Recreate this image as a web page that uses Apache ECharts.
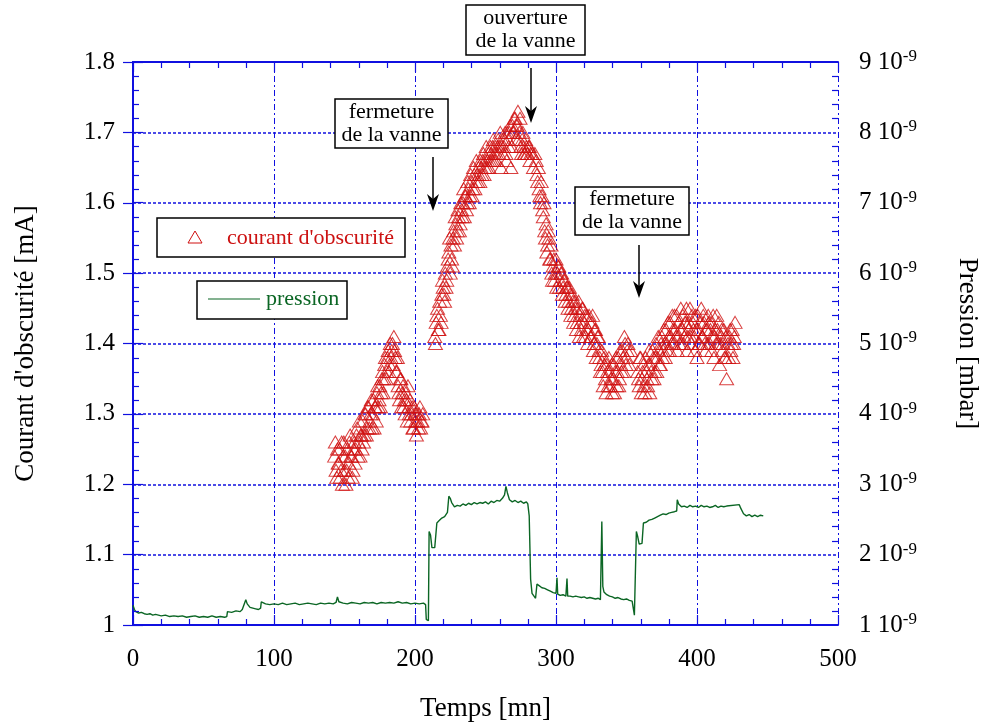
<!DOCTYPE html>
<html><head><meta charset="utf-8">
<script src="https://cdn.jsdelivr.net/npm/echarts@6/dist/echarts.min.js"></script>
<style>html,body{margin:0;padding:0;background:#fff;overflow:hidden}#c{width:984px;height:724px}</style>
</head><body><div id="c"></div>
<script>
// Courant d'obscurité [mA] : temps (mn) et valeurs (deux passes de lecture)
const courantT = [143,144,145,146,147,148,149,150,151,152,153,154,155,156,157,158,159,160,161,162,163,164,165,166,167,168,169,170,171,172,173,174,175,176,177,178,179,180,181,182,183,184,185,186,187,188,189,190,191,192,193,194,195,196,197,198,199,200,201,202,203,204,205,
214,215,216,217,218,219,220,221,222,223,224,225,226,227,228,229,230,231,232,233,234,235,236,237,238,239,240,241,242,243,244,245,246,247,248,249,250,251,252,253,254,255,256,257,258,259,260,261,262,263,264,265,266,267,268,269,270,271,272,273,274,275,276,277,278,279,280,281,282,
284,286,287,288,289,290,291,292,293,294,295,296,297,298,299,300,301,302,303,304,305,306,307,308,309,310,311,312,313,314,315,316,317,318,319,320,321,322,323,324,325,326,327,328,329,330,331,332,333,334,335,336,337,338,339,340,341,342,343,344,345,346,347,348,349,350,351,352,353,
358,359,360,361,362,363,364,365,366,367,368,369,370,371,372,373,374,375,376,377,378,379,380,
381,382,383,384,385,386,387,388,389,390,391,392,393,394,395,396,397,398,399,400,401,402,403,404,405,406,407,408,409,410,411,412,413,414,415,416,417,418,419,420,421,422,423,424,425,426,427];
const courantV = [1.24,1.22,1.25,1.23,1.21,1.26,1.24,1.22,1.20,1.25,1.23,1.27,1.24,1.22,1.26,1.25,1.28,1.26,1.24,1.27,1.29,1.27,1.30,1.28,1.31,1.29,1.32,1.30,1.28,1.31,1.33,1.31,1.34,1.33,1.36,1.35,1.38,1.36,1.39,1.37,1.38,1.40,1.41,1.38,1.36,1.34,1.32,1.35,1.33,1.31,1.30,1.32,1.34,1.30,1.29,1.31,1.28,1.30,1.27,1.29,1.30,1.28,1.29,
1.41,1.43,1.45,1.42,1.44,1.47,1.48,1.46,1.48,1.51,1.53,1.50,1.52,1.55,1.54,1.57,1.56,1.58,1.57,1.59,1.60,1.58,1.61,1.60,1.62,1.61,1.63,1.62,1.64,1.63,1.64,1.65,1.63,1.65,1.66,1.64,1.66,1.65,1.67,1.66,1.67,1.68,1.66,1.68,1.67,1.69,1.68,1.65,1.69,1.68,1.70,1.66,1.69,1.70,1.65,1.71,1.70,1.72,1.71,1.73,1.70,1.68,1.69,1.68,1.67,1.68,1.67,1.68,1.67,
1.65,1.66,1.63,1.62,1.60,1.61,1.58,1.56,1.57,1.54,1.55,1.52,1.50,1.51,1.49,1.52,1.50,1.51,1.49,1.50,1.48,1.49,1.47,1.48,1.46,1.47,1.45,1.46,1.44,1.45,1.43,1.46,1.44,1.42,1.45,1.43,1.41,1.44,1.42,1.43,1.41,1.44,1.40,1.42,1.40,1.41,1.38,1.37,1.36,1.38,1.35,1.37,1.34,1.36,1.35,1.33,1.37,1.36,1.34,1.38,1.35,1.37,1.39,1.36,1.40,1.38,1.40,1.37,1.39,
1.36,1.34,1.38,1.35,1.37,1.33,1.36,1.34,1.39,1.37,1.35,1.38,1.36,1.40,1.38,1.39,1.37,1.41,1.39,1.40,1.42,1.39,1.41,
1.43,1.40,1.42,1.44,1.41,1.39,1.43,1.42,1.40,1.44,1.41,1.43,1.39,1.42,1.45,1.40,1.43,1.41,1.44,1.38,1.42,1.40,1.45,1.41,1.43,1.39,1.42,1.44,1.40,1.43,1.41,1.38,1.42,1.44,1.40,1.37,1.41,1.39,1.42,1.38,1.35,1.40,1.41,1.39,1.42,1.40,1.43];
const courantT2 = [143.5,144.5,145.5,146.5,147.5,148.5,149.5,150.5,151.5,152.5,153.5,154.5,155.5,156.5,157.5,158.5,159.5,160.5,161.5,162.5,163.5,164.5,165.5,166.5,167.5,168.5,169.5,170.5,171.5,172.5,173.5,174.5,175.5,176.5,177.5,178.5,179.5,180.5,181.5,182.5,183.5,184.5,185.5,186.5,187.5,188.5,189.5,190.5,191.5,192.5,193.5,194.5,195.5,196.5,197.5,198.5,199.5,200.5,201.5,202.5,203.5,204.5,205.5,
214.5,215.5,216.5,217.5,218.5,219.5,220.5,221.5,222.5,223.5,224.5,225.5,226.5,227.5,228.5,229.5,230.5,231.5,232.5,233.5,234.5,235.5,236.5,237.5,238.5,239.5,240.5,241.5,242.5,243.5,244.5,245.5,246.5,247.5,248.5,249.5,250.5,251.5,252.5,253.5,254.5,255.5,256.5,257.5,258.5,259.5,260.5,261.5,262.5,263.5,264.5,265.5,266.5,267.5,268.5,269.5,270.5,271.5,272.5,273.5,274.5,275.5,276.5,277.5,278.5,279.5,280.5,281.5,283,
285,286.5,287.5,288.5,289.5,290.5,291.5,292.5,293.5,294.5,295.5,296.5,297.5,298.5,299.5,300.5,301.5,302.5,303.5,304.5,305.5,306.5,307.5,308.5,309.5,310.5,311.5,312.5,313.5,314.5,315.5,316.5,317.5,318.5,319.5,320.5,321.5,322.5,323.5,324.5,325.5,326.5,327.5,328.5,329.5,330.5,331.5,332.5,333.5,334.5,335.5,336.5,337.5,338.5,339.5,340.5,341.5,342.5,343.5,344.5,345.5,346.5,347.5,348.5,349.5,350.5,
358.5,359.5,360.5,361.5,362.5,363.5,364.5,365.5,366.5,367.5,368.5,369.5,370.5,371.5,372.5,373.5,374.5,375.5,376.5,377.5,378.5,379.5,380.5,
381.5,382.5,383.5,384.5,385.5,386.5,387.5,388.5,389.5,390.5,391.5,392.5,393.5,394.5,395.5,396.5,397.5,398.5,399.5,400.5,401.5,402.5,403.5,404.5,405.5,406.5,407.5,408.5,409.5,410.5,411.5,412.5,413.5,414.5,415.5,416.5,417.5,418.5,419.5,420.5,422.5,423.5,424.5,425.5,426.5];
const courantV2 = [1.26,1.21,1.23,1.25,1.22,1.20,1.26,1.24,1.22,1.21,1.26,1.24,1.21,1.25,1.23,1.27,1.24,1.29,1.27,1.25,1.26,1.30,1.27,1.31,1.28,1.30,1.28,1.32,1.31,1.29,1.34,1.32,1.31,1.35,1.33,1.37,1.35,1.38,1.36,1.40,1.39,1.37,1.39,1.36,1.38,1.33,1.35,1.31,1.34,1.32,1.33,1.29,1.31,1.32,1.30,1.28,1.31,1.29,1.30,1.28,1.31,1.29,1.30,
1.40,1.44,1.42,1.46,1.43,1.49,1.47,1.50,1.49,1.52,1.55,1.54,1.51,1.56,1.58,1.55,1.59,1.56,1.60,1.58,1.62,1.61,1.59,1.63,1.60,1.64,1.61,1.65,1.62,1.66,1.63,1.64,1.66,1.64,1.67,1.65,1.68,1.66,1.65,1.68,1.66,1.69,1.67,1.66,1.68,1.67,1.70,1.68,1.67,1.69,1.67,1.70,1.68,1.71,1.68,1.70,1.72,1.69,1.71,1.69,1.72,1.67,1.70,1.67,1.69,1.67,1.68,1.66,1.67,
1.67,1.64,1.65,1.61,1.63,1.59,1.60,1.55,1.53,1.56,1.52,1.54,1.49,1.52,1.50,1.48,1.51,1.48,1.50,1.47,1.49,1.46,1.48,1.45,1.48,1.44,1.47,1.43,1.46,1.42,1.45,1.41,1.43,1.45,1.41,1.44,1.42,1.40,1.44,1.41,1.43,1.39,1.42,1.38,1.41,1.39,1.36,1.39,1.34,1.37,1.33,1.36,1.38,1.34,1.37,1.35,1.33,1.38,1.36,1.34,1.39,1.36,1.38,1.41,1.37,1.39,
1.35,1.38,1.33,1.36,1.34,1.38,1.35,1.37,1.33,1.36,1.39,1.35,1.38,1.36,1.41,1.37,1.40,1.38,1.42,1.38,1.40,1.43,1.39,
1.41,1.44,1.40,1.42,1.44,1.41,1.40,1.45,1.42,1.40,1.43,1.45,1.41,1.43,1.41,1.44,1.42,1.39,1.42,1.44,1.40,1.43,1.41,1.44,1.40,1.42,1.40,1.43,1.42,1.39,1.44,1.41,1.40,1.42,1.43,1.40,1.42,1.40,1.38,1.41,1.38,1.42,1.40,1.38,1.41];

// Pression en unités de 10^-9 mbar
const pressionT = [0,1,2,4,6,8,10,12,14,16,18,20,23,26,29,32,35,38,41,44,47,50,53,56,59,62,65,66.5,67,70,73,76,77.5,80,81,83,85,87,89,90.5,91,92,94,97,100,103,106,109,112,115,118,121,124,127,130,133,136,139,142,144,145,146,149,152,155,158,161,164,167,170,173,176,179,182,185,188,191,194,197,200,203,206,207.5,208,209.5,
210,211,212,213,214,215,215.5,217,219,221,223,224,225,226,228,230,232,234,236,238,240,242,244,246,248,250,252,254,256,258,260,262,263.5,264.5,265.5,267,269,271,273,275,277,279,280,281,282,283,284,285.5,
286.5,288,290,292,294,296,298,300,300.7,301.2,303,305,307,307.8,308.3,310,312,314,316,318,320,322,324,326,328,330,331.5,332.5,333.2,334,336,338,340,342,344,346,348,350,352,354,355,355.6,356.3,
357,358,359,360,361,362,364,366,368,370,372,374,376,378,380,382,384,385.6,386,387,389,391,393,395,397,399,401,403,405,407,409,411,413,415,417,419,421,430,431,433,435,437,439,441,443,445,447];
const pressionV = [1.28,1.22,1.19,1.17,1.18,1.16,1.15,1.16,1.14,1.15,1.14,1.13,1.14,1.12,1.13,1.12,1.13,1.11,1.12,1.13,1.11,1.12,1.11,1.13,1.11,1.12,1.11,1.12,1.19,1.18,1.20,1.19,1.22,1.36,1.30,1.25,1.24,1.23,1.22,1.24,1.33,1.34,1.30,1.29,1.30,1.29,1.31,1.29,1.30,1.31,1.29,1.30,1.31,1.30,1.29,1.31,1.30,1.31,1.30,1.32,1.40,1.33,1.31,1.30,1.32,1.31,1.30,1.32,1.31,1.32,1.30,1.32,1.31,1.32,1.31,1.33,1.31,1.32,1.30,1.31,1.30,1.31,1.29,1.08,1.06,
2.33,2.28,2.10,2.08,2.10,2.12,2.45,2.48,2.52,2.54,2.60,2.83,2.80,2.74,2.68,2.70,2.69,2.72,2.70,2.73,2.71,2.74,2.72,2.74,2.73,2.75,2.72,2.76,2.74,2.77,2.76,2.80,2.85,2.97,2.88,2.78,2.75,2.77,2.74,2.76,2.73,2.75,2.72,2.55,1.65,1.45,1.42,1.38,
1.58,1.56,1.53,1.52,1.50,1.48,1.46,1.45,1.67,1.44,1.42,1.43,1.41,1.66,1.41,1.41,1.40,1.41,1.40,1.39,1.40,1.38,1.39,1.38,1.37,1.38,1.36,2.47,1.55,1.47,1.43,1.41,1.40,1.38,1.39,1.37,1.36,1.37,1.35,1.34,1.33,1.14,1.13,
2.33,2.25,2.15,2.14,2.16,2.45,2.46,2.49,2.50,2.52,2.54,2.56,2.58,2.57,2.59,2.60,2.61,2.62,2.78,2.72,2.68,2.69,2.67,2.70,2.68,2.69,2.67,2.70,2.68,2.69,2.67,2.68,2.70,2.67,2.69,2.68,2.69,2.71,2.66,2.58,2.55,2.57,2.54,2.56,2.54,2.56,2.55];

// Graduations
const xTicks = {min: 0, max: 500, step: 100, minor: 20};
const yLeftTicks = {min: 1, max: 1.8, step: 0.1, minor: 0.02};
const yRightTicks = {min: 1, max: 9, step: 1, minor: 0.2};

const FONT = 'Liberation Serif';
const BLUE = '#1010e0';
const RED = '#cc1111';
const GREEN = '#0b6624';

const chart = echarts.init(document.getElementById('c'), null, {renderer: 'canvas'});

const courantData = courantT.map((t, i) => [t, courantV[i]]).concat(courantT2.map((t, i) => [t, courantV2[i]]));
const pressionData = pressionT.map((t, i) => [t, pressionV[i]]);

const axisLineStyle = {show: true, lineStyle: {color: BLUE, width: 2}};
const tickStyle = {show: true, inside: true, length: 10, lineStyle: {color: BLUE, width: 1.2}};

const option = {
  animation: false,
  backgroundColor: '#fff',
  grid: {left: 133, right: 146, top: 62, bottom: 99, containLabel: false, outerBoundsMode: 'none'},
  xAxis: [{
    type: 'value', position: 'bottom', min: xTicks.min, max: xTicks.max, interval: xTicks.step,
    name: 'Temps [mn]', nameLocation: 'middle', nameGap: 70,
    nameTextStyle: {fontFamily: FONT, fontSize: 27, color: '#000'},
    axisLine: axisLineStyle, axisTick: tickStyle, minorTick: {show: false},
    axisLabel: {fontFamily: FONT, fontSize: 25, color: '#000', margin: 22},
    splitLine: {show: true, lineStyle: {color: BLUE, width: 1, type: [6, 3, 2, 3]}}
  }, {
    type: 'value', position: 'top', min: xTicks.min, max: xTicks.max, interval: xTicks.step,
    axisLine: axisLineStyle, axisTick: tickStyle, minorTick: {show: false},
    axisLabel: {show: false}, splitLine: {show: false}
  }],
  yAxis: [{
    type: 'value', position: 'left', min: yLeftTicks.min, max: yLeftTicks.max, interval: yLeftTicks.step,
    name: "Courant d'obscurité [mA]", nameLocation: 'middle', nameGap: 94, nameRotate: 90,
    nameTextStyle: {fontFamily: FONT, fontSize: 27, color: '#000'},
    axisLine: axisLineStyle, axisTick: tickStyle, minorTick: {show: false},
    axisLabel: {fontFamily: FONT, fontSize: 25, color: '#000', margin: 18,
      formatter: v => (Math.round(v * 10) / 10).toString()},
    splitLine: {show: true, lineStyle: {color: BLUE, width: 1.6, type: [3, 2]}}
  }, {
    type: 'value', position: 'right', min: yRightTicks.min, max: yRightTicks.max, interval: yRightTicks.step,
    name: 'Pression [mbar]', nameLocation: 'middle', nameGap: 116, nameRotate: -90,
    nameTextStyle: {fontFamily: FONT, fontSize: 27, color: '#000'},
    axisLine: axisLineStyle, axisTick: tickStyle, minorTick: {show: false},
    axisLabel: {margin: 21, formatter: v => '{m|' + v + ' 10}{e|-9}',
      rich: {
        m: {fontFamily: FONT, fontSize: 25, color: '#000', lineHeight: 28},
        e: {fontFamily: FONT, fontSize: 17, color: '#000', lineHeight: 17, verticalAlign: 'top'}
      }},
    splitLine: {show: false}
  }],
  series: [{
    name: 'pression', type: 'line', xAxisIndex: 0, yAxisIndex: 1,
    data: pressionData, showSymbol: false, symbol: 'none',
    lineStyle: {color: GREEN, width: 1.4}, z: 2
  }, {
    name: "courant d'obscurité", type: 'scatter', xAxisIndex: 0, yAxisIndex: 0,
    data: courantData, symbol: 'triangle', symbolSize: [14, 12],
    itemStyle: {color: 'rgba(0,0,0,0)', borderColor: '#d01010', borderWidth: 1}, z: 3
  }]
};
chart.setOption(option);

// Graduations secondaires (vers l'intérieur), positionnées par les échelles des axes
function minorValues(cfg) {
  const n = Math.round((cfg.max - cfg.min) / cfg.minor);
  const per = Math.round(cfg.step / cfg.minor);
  const out = [];
  for (let i = 1; i < n; i++) if (i % per !== 0) out.push(cfg.min + i * cfg.minor);
  return out;
}
const tickGraphics = [];
const tickLine = (x1, y1, x2, y2) => tickGraphics.push({type: 'line', silent: true, z: 50,
  shape: {x1, y1, x2, y2}, style: {stroke: BLUE, lineWidth: 1.2}});
const gTop = chart.convertToPixel({yAxisIndex: 0}, yLeftTicks.max);
const gBot = chart.convertToPixel({yAxisIndex: 0}, yLeftTicks.min);
const gLeft = chart.convertToPixel({xAxisIndex: 0}, xTicks.min);
const gRight = chart.convertToPixel({xAxisIndex: 0}, xTicks.max);
minorValues(xTicks).forEach(v => {
  const px = Math.round(chart.convertToPixel({xAxisIndex: 0}, v)) + 0.5;
  tickLine(px, gBot, px, gBot - 6);
  tickLine(px, gTop, px, gTop + 6);
});
minorValues(yLeftTicks).forEach(v => {
  const py = Math.round(chart.convertToPixel({yAxisIndex: 0}, v)) + 0.5;
  tickLine(gLeft, py, gLeft + 6, py);
});
minorValues(yRightTicks).forEach(v => {
  const py = Math.round(chart.convertToPixel({yAxisIndex: 1}, v)) + 0.5;
  tickLine(gRight, py, gRight - 6, py);
});

const F22 = '22px "Liberation Serif"';
const annot = [
  // légende courant
  {type: 'rect', shape: {x: 157, y: 218, width: 248, height: 39}, style: {fill: '#fff', stroke: '#000', lineWidth: 1.5}, z: 60},
  {type: 'polygon', shape: {points: [[195, 231], [188, 243], [202, 243]]}, style: {fill: 'none', stroke: '#d01010', lineWidth: 1}, z: 61},
  {type: 'text', style: {x: 227, y: 238, text: "courant d'obscurité", font: F22, fill: RED, verticalAlign: 'middle'}, z: 61},
  // légende pression
  {type: 'rect', shape: {x: 197, y: 281, width: 150, height: 38}, style: {fill: '#fff', stroke: '#000', lineWidth: 1.5}, z: 60},
  {type: 'line', shape: {x1: 208, y1: 299, x2: 260, y2: 299}, style: {stroke: GREEN, lineWidth: 1.2}, z: 61},
  {type: 'text', style: {x: 266, y: 299, text: 'pression', font: F22, fill: GREEN, verticalAlign: 'middle'}, z: 61},
  // annotation ouverture
  {type: 'rect', shape: {x: 466, y: 5, width: 119, height: 50}, style: {fill: '#fff', stroke: '#000', lineWidth: 1.5}, z: 60},
  {type: 'text', style: {x: 525.5, y: 30, text: 'ouverture\nde la vanne', font: F22, fill: '#000', align: 'center', verticalAlign: 'middle', lineHeight: 23}, z: 61},
  {type: 'line', shape: {x1: 531, y1: 68, x2: 531, y2: 112}, style: {stroke: '#000', lineWidth: 1.5}, z: 61},
  {type: 'polygon', shape: {points: [[531, 123], [525, 106], [531, 111], [537, 106]]}, style: {fill: '#000'}, z: 61},
  // annotation fermeture 1
  {type: 'rect', shape: {x: 335, y: 99, width: 113, height: 49}, style: {fill: '#fff', stroke: '#000', lineWidth: 1.5}, z: 60},
  {type: 'text', style: {x: 391.5, y: 123.5, text: 'fermeture\nde la vanne', font: F22, fill: '#000', align: 'center', verticalAlign: 'middle', lineHeight: 23}, z: 61},
  {type: 'line', shape: {x1: 433, y1: 157, x2: 433, y2: 200}, style: {stroke: '#000', lineWidth: 1.5}, z: 61},
  {type: 'polygon', shape: {points: [[433, 211], [427, 194], [433, 199], [439, 194]]}, style: {fill: '#000'}, z: 61},
  // annotation fermeture 2
  {type: 'rect', shape: {x: 575, y: 187, width: 114, height: 48}, style: {fill: '#fff', stroke: '#000', lineWidth: 1.5}, z: 60},
  {type: 'text', style: {x: 632, y: 211, text: 'fermeture\nde la vanne', font: F22, fill: '#000', align: 'center', verticalAlign: 'middle', lineHeight: 23}, z: 61},
  {type: 'line', shape: {x1: 639, y1: 245, x2: 639, y2: 287}, style: {stroke: '#000', lineWidth: 1.5}, z: 61},
  {type: 'polygon', shape: {points: [[639, 298], [633, 281], [639, 286], [645, 281]]}, style: {fill: '#000'}, z: 61}
];
chart.setOption({graphic: tickGraphics.concat(annot)});
</script>
</body></html>
